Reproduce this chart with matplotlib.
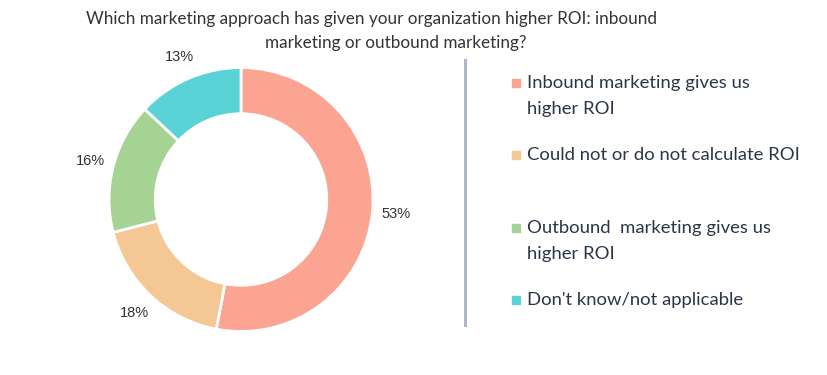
import matplotlib.pyplot as plt
from matplotlib.patches import Rectangle

# Datos del gráfico
categorias = ['Inbound marketing gives us\nhigher ROI',
              'Could not or do not calculate ROI',
              'Outbound  marketing gives us\nhigher ROI',
              "Don't know/not applicable"]
valores = [53, 18, 16, 13]
etiquetas = ['53%', '18%', '16%', '13%']
cores = ['#FBA492', '#F4C795', '#A5D394', '#5AD3D7']

W, H = 827, 375
fig = plt.figure(figsize=(W / 100, H / 100), dpi=100)

# Rosca (donut)
cx, cy, r = 241, 199.5, 132
ax = fig.add_axes([(cx - r) / W, 1 - (cy + r) / H, 2 * r / W, 2 * r / H])
wedges, textos = ax.pie(valores, colors=cores, startangle=90, counterclock=False,
                        labels=etiquetas, labeldistance=1.18,
                        wedgeprops=dict(width=0.35, edgecolor='white', linewidth=2),
                        textprops=dict(fontsize=10.5, color='#333333', family='Liberation Sans'))
for t in textos:
    t.set_horizontalalignment('center')
    t.set_verticalalignment('center')
ax.set_xlim(-1, 1)
ax.set_ylim(-1, 1)
ax.set_aspect('equal')
ax.axis('off')

# Título
fig.text(371 / W, 1 - 19 / H, 'Which marketing approach has given your organization higher ROI: inbound',
         ha='center', va='center', fontsize=12.3, color='#333333', family='Lato')
fig.text(396 / W, 1 - 43 / H, 'marketing or outbound marketing?',
         ha='center', va='center', fontsize=12.3, color='#333333', family='Lato')

# Linha vertical separadora
fig.add_artist(plt.Line2D([465 / W, 465 / W], [1 - 60 / H, 1 - 325 / H],
                          color='#A9B8CC', linewidth=2.2))

# Legenda manual (espaçamento irregular como no original)
pos_y = [83, 155, 228, 300]
for cat, cor, y in zip(categorias, cores, pos_y):
    fig.add_artist(Rectangle((512 / W, 1 - (y + 4) / H), 8 / W, 8 / H, color=cor))
    fig.text(527 / W, 1 - (y - 8) / H, cat, ha='left', va='top', fontsize=13.3,
             color='#2B3545', family='Lato', linespacing=1.75)

fig.savefig('out.png', dpi=100)
